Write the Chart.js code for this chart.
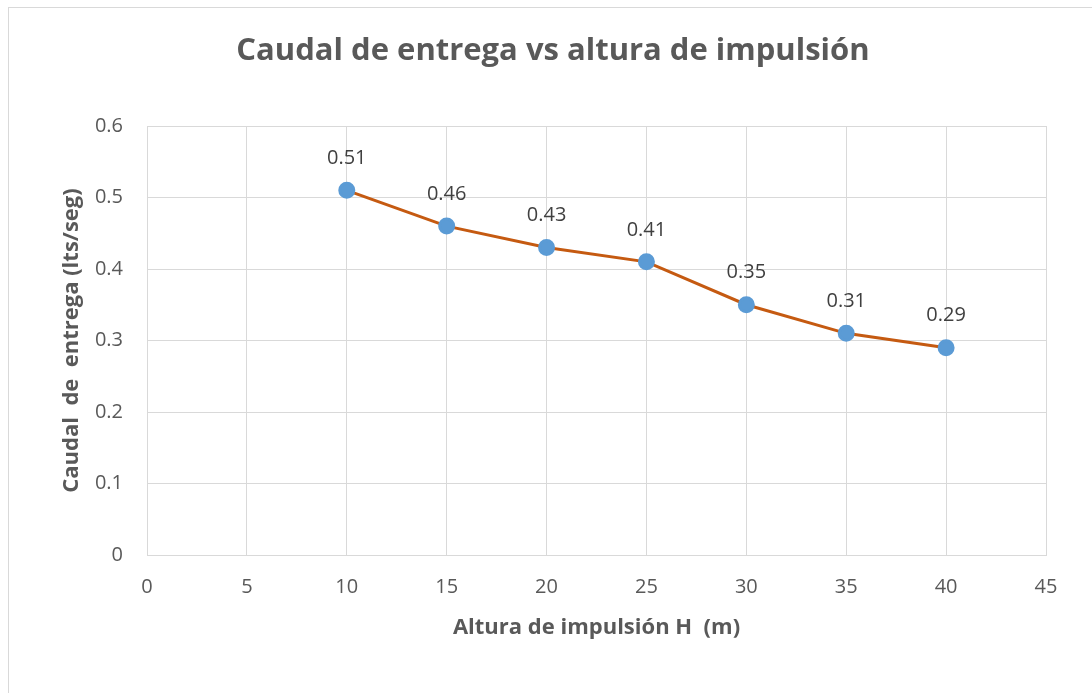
<!DOCTYPE html>
<html>
<head>
    <meta charset="utf-8">
    <title>Caudal de entrega vs altura de impulsión</title>
    <script src="https://cdn.jsdelivr.net/npm/chart.js"></script>
    <style>
        html, body {
            margin: 0;
            padding: 0;
            background: #fff;
            overflow: hidden;
        }
        #frame {
            position: absolute;
            left: 8px;
            top: 7px;
            width: 1200px;
            height: 800px;
            border: 1px solid #d9d9d9;
        }
        #wrap {
            position: absolute;
            left: 0;
            top: 0;
            width: 1092px;
            height: 693px;
        }
    </style>
</head>
<body>
    <div id="frame"></div>
    <div id="wrap">
        <canvas id="caudalChart" width="1092" height="693"></canvas>
    </div>

    <script>
        // datos
        const alturas = [10, 15, 20, 25, 30, 35, 40];
        const caudales = [0.51, 0.46, 0.43, 0.41, 0.35, 0.31, 0.29];
        const xTicks = [0, 5, 10, 15, 20, 25, 30, 35, 40, 45];
        const yTicks = [0, 0.1, 0.2, 0.3, 0.4, 0.5, 0.6];
        const titulo = 'Caudal de entrega vs altura de impulsión';

        const puntos = alturas.map((h, i) => ({ x: h, y: caudales[i] }));

        const fontFamily = "'Open Sans', sans-serif";
        const gridColor = '#d9d9d9';
        const textColor = '#595959';

        // etiquetas de datos encima de cada punto + titulo centrado en todo el lienzo
        const etiquetasPlugin = {
            id: 'etiquetas',
            afterDatasetsDraw(chart) {
                const ctx = chart.ctx;
                const meta = chart.getDatasetMeta(0);
                ctx.save();
                ctx.font = "20px " + fontFamily;
                ctx.fillStyle = '#404040';
                ctx.textAlign = 'center';
                ctx.textBaseline = 'middle';
                meta.data.forEach((p, i) => {
                    ctx.fillText(caudales[i].toString(), p.x, p.y - 32);
                });

                ctx.font = "bold 31px " + fontFamily;
                ctx.fillStyle = textColor;
                ctx.fillText(titulo, chart.width / 2 + 7, 51);
                ctx.restore();
            }
        };

        new Chart(document.getElementById('caudalChart'), {
            type: 'scatter',
            data: {
                datasets: [{
                    label: 'Caudal',
                    data: puntos,
                    showLine: true,
                    borderColor: '#C55A11',
                    borderWidth: 3,
                    backgroundColor: '#5B9BD5',
                    pointBackgroundColor: '#5B9BD5',
                    pointBorderColor: '#5B9BD5',
                    pointRadius: 7,
                    pointHoverRadius: 7,
                    tension: 0
                }]
            },
            options: {
                responsive: false,
                animation: false,
                layout: {
                    padding: { left: 0, right: 46, top: 126, bottom: 0 }
                },
                plugins: {
                    legend: { display: false },
                    tooltip: { enabled: false },
                    title: { display: false }
                },
                scales: {
                    x: {
                        type: 'linear',
                        min: 0,
                        max: 45,
                        afterBuildTicks(scale) {
                            scale.ticks = xTicks.map(v => ({ value: v }));
                        },
                        afterFit(scale) {
                            scale.height = 138;
                        },
                        grid: { color: gridColor, drawTicks: false },
                        border: { color: gridColor, width: 1 },
                        ticks: {
                            color: textColor,
                            padding: 20,
                            font: { family: fontFamily, size: 20 }
                        },
                        title: {
                            display: true,
                            text: 'Altura de impulsión H  (m)',
                            color: textColor,
                            font: { family: fontFamily, size: 22, weight: 'bold', lineHeight: 1.2 },
                            padding: { top: 0, bottom: 52 }
                        }
                    },
                    y: {
                        min: 0,
                        max: 0.6,
                        afterBuildTicks(scale) {
                            scale.ticks = yTicks.map(v => ({ value: v }));
                        },
                        afterFit(scale) {
                            scale.width = 147;
                        },
                        grid: { color: gridColor, drawTicks: false },
                        border: { color: gridColor, width: 1 },
                        ticks: {
                            color: textColor,
                            padding: 24,
                            font: { family: fontFamily, size: 20 },
                            callback: v => v.toString()
                        },
                        title: {
                            display: true,
                            text: 'Caudal  de  entrega (lts/seg)',
                            color: textColor,
                            font: { family: fontFamily, size: 22, weight: 'bold', lineHeight: 1.2 },
                            padding: { top: 59, bottom: 0 }
                        }
                    }
                }
            },
            plugins: [etiquetasPlugin]
        });
    </script>
</body>
</html>
